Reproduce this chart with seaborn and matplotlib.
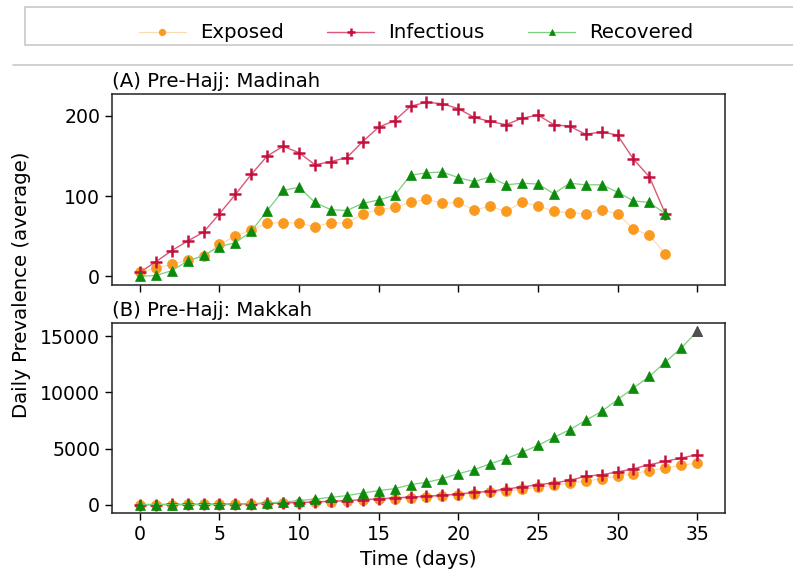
import numpy as np
import pandas as pd
import matplotlib
matplotlib.use("Agg")
import matplotlib.pyplot as plt
import seaborn as sns
from matplotlib.patches import Rectangle
from matplotlib.lines import Line2D

# ---------------- data ----------------
days_a = list(range(34))
exposed_a = [5, 10, 15, 20, 25, 40, 50, 58, 66, 67, 66, 62, 67, 66, 78, 83, 86, 92, 96, 91,
             92, 83, 87, 81, 92, 88, 81, 79, 78, 83, 78, 59, 51, 28]
infectious_a = [5, 18, 32, 44, 55, 78, 102, 127, 150, 162, 154, 139, 143, 148, 168, 186, 194, 212, 217, 215,
                209, 198, 193, 189, 197, 201, 189, 187, 177, 180, 176, 146, 124, 78]
recovered_a = [0, 1, 7, 19, 26, 37, 42, 56, 82, 107, 111, 92, 83, 82, 91, 95, 101, 126, 129, 130,
               123, 118, 124, 114, 116, 115, 103, 116, 114, 114, 105, 94, 92, 78]

days_b = list(range(36))
exposed_b = [4, 8, 12, 18, 25, 35, 50, 70, 100, 130, 170, 220, 270, 330, 400, 470, 540, 610, 683, 743,
             891, 980, 1099, 1188, 1396, 1544, 1723, 1930, 2079, 2317, 2525, 2762, 3030, 3267, 3505, 3712]
infectious_b = [5, 10, 15, 20, 30, 40, 60, 80, 110, 150, 190, 240, 300, 360, 440, 520, 600, 680, 750, 832,
                950, 1099, 1188, 1396, 1574, 1782, 1930, 2168, 2525, 2673, 2911, 3208, 3564, 3861, 4158, 4455]
recovered_b = [0, 5, 10, 15, 20, 30, 60, 89, 149, 238, 356, 505, 653, 802, 1040, 1247, 1426, 1782, 1990, 2317,
               2762, 3119, 3653, 4099, 4663, 5287, 6000, 6683, 7514, 8316, 9355, 10395, 11435, 12710, 13960, 15450]

series_names = ["Exposed", "Infectious", "Recovered"]
panel_titles = ["(A) Pre-Hajj: Madinah", "(B) Pre-Hajj: Makkah"]
x_label = "Time (days)"
y_label = "Daily Prevalence (average)"

# ---------------- style ----------------
sns.set_style("ticks")
plt.rcParams["font.family"] = ["DejaVu Sans"]
plt.rcParams["text.color"] = "black"
plt.rcParams["axes.labelcolor"] = "black"
FS = 14.2
TFS = 13.6

styles = {
    "Exposed": dict(line="#fdd9b0", lw=0.8, marker="o", ms=7.2, mfc="#fb9a1e", mec="#fb9a1e", mew=0.5),
    "Infectious": dict(line="#d9587a", lw=1.0, marker="+", ms=8, mfc="#c4103c", mec="#c4103c", mew=1.8),
    "Recovered": dict(line="#7ccf7c", lw=0.9, marker="^", ms=7.6, mfc="#0b8a0b", mec="#0b8a0b", mew=0.5),
}

W, H = 793, 576
fig = plt.figure(figsize=(W / 100, H / 100), dpi=100)
axA = fig.add_axes([112 / W, 1 - 285 / H, 613 / W, 191.5 / H])
axB = fig.add_axes([112 / W, 1 - 513.3 / H, 613 / W, 190.6 / H], sharex=axA)


def draw(ax, days, data):
    for name, vals in zip(series_names, data):
        st = styles[name]
        df = pd.DataFrame({"day": days, "value": vals})
        sns.lineplot(data=df, x="day", y="value", ax=ax, color=st["line"], lw=st["lw"],
                     marker=st["marker"], markersize=st["ms"], markerfacecolor=st["mfc"],
                     markeredgecolor=st["mec"], markeredgewidth=st["mew"], label=name)


draw(axA, days_a, [exposed_a, infectious_a, recovered_a])
draw(axB, days_b, [exposed_b, infectious_b, recovered_b])

# last Makkah recovered marker appears dark grey in the reference
sns.scatterplot(x=[days_b[-1]], y=[recovered_b[-1]], ax=axB, marker="^", s=55,
                color="#505050", edgecolor="#505050", linewidth=0.5, zorder=5, legend=False)

handles, labels = axA.get_legend_handles_labels()
for ax in (axA, axB):
    if ax.get_legend() is not None:
        ax.get_legend().remove()

for ax, title in zip((axA, axB), panel_titles):
    ax.set_title(title, loc="left", fontsize=FS, pad=5, color="black")
    ax.set_xlabel("")
    ax.set_ylabel("")
    ax.tick_params(axis="both", labelsize=TFS, length=5, width=1, colors="black", direction="out")
    for sp in ax.spines.values():
        sp.set_visible(True)
        sp.set_color("#222222")
        sp.set_linewidth(1.1)

axA.set_xlim(-1.75, 36.75)
axA.set_xticks([0, 5, 10, 15, 20, 25, 30, 35])
axA.tick_params(axis="x", labelbottom=False)
axA.set_yticks([0, 100, 200])
axA.set_ylim(-10.85, 227.85)
axB.set_yticks([0, 5000, 10000, 15000])
axB.set_ylim(-772, 16222)
axB.set_xlabel(x_label, fontsize=FS, labelpad=4)

fig.text(22 / W, 1 - 285 / H, y_label, rotation=90, ha="center", va="center", fontsize=FS)

# legend band at top
fig.add_artist(Rectangle((25 / W, 1 - 45 / H), 1.0, 38 / H, transform=fig.transFigure,
                         facecolor="white", edgecolor="#c8c8c8", lw=1.2, zorder=0))
fig.add_artist(Line2D([13 / W, 1.0], [1 - 65 / H, 1 - 65 / H], transform=fig.transFigure,
                      color="#c8c8c8", lw=1.2))
leg = fig.legend(handles, labels, loc="center", bbox_to_anchor=(416 / W, 1 - 33 / H), ncol=3,
                 frameon=False, fontsize=FS, markerscale=0.65, handlelength=2.4, columnspacing=2.2,
                 handletextpad=0.7)

fig.savefig("out.png", dpi=100, facecolor="white")
